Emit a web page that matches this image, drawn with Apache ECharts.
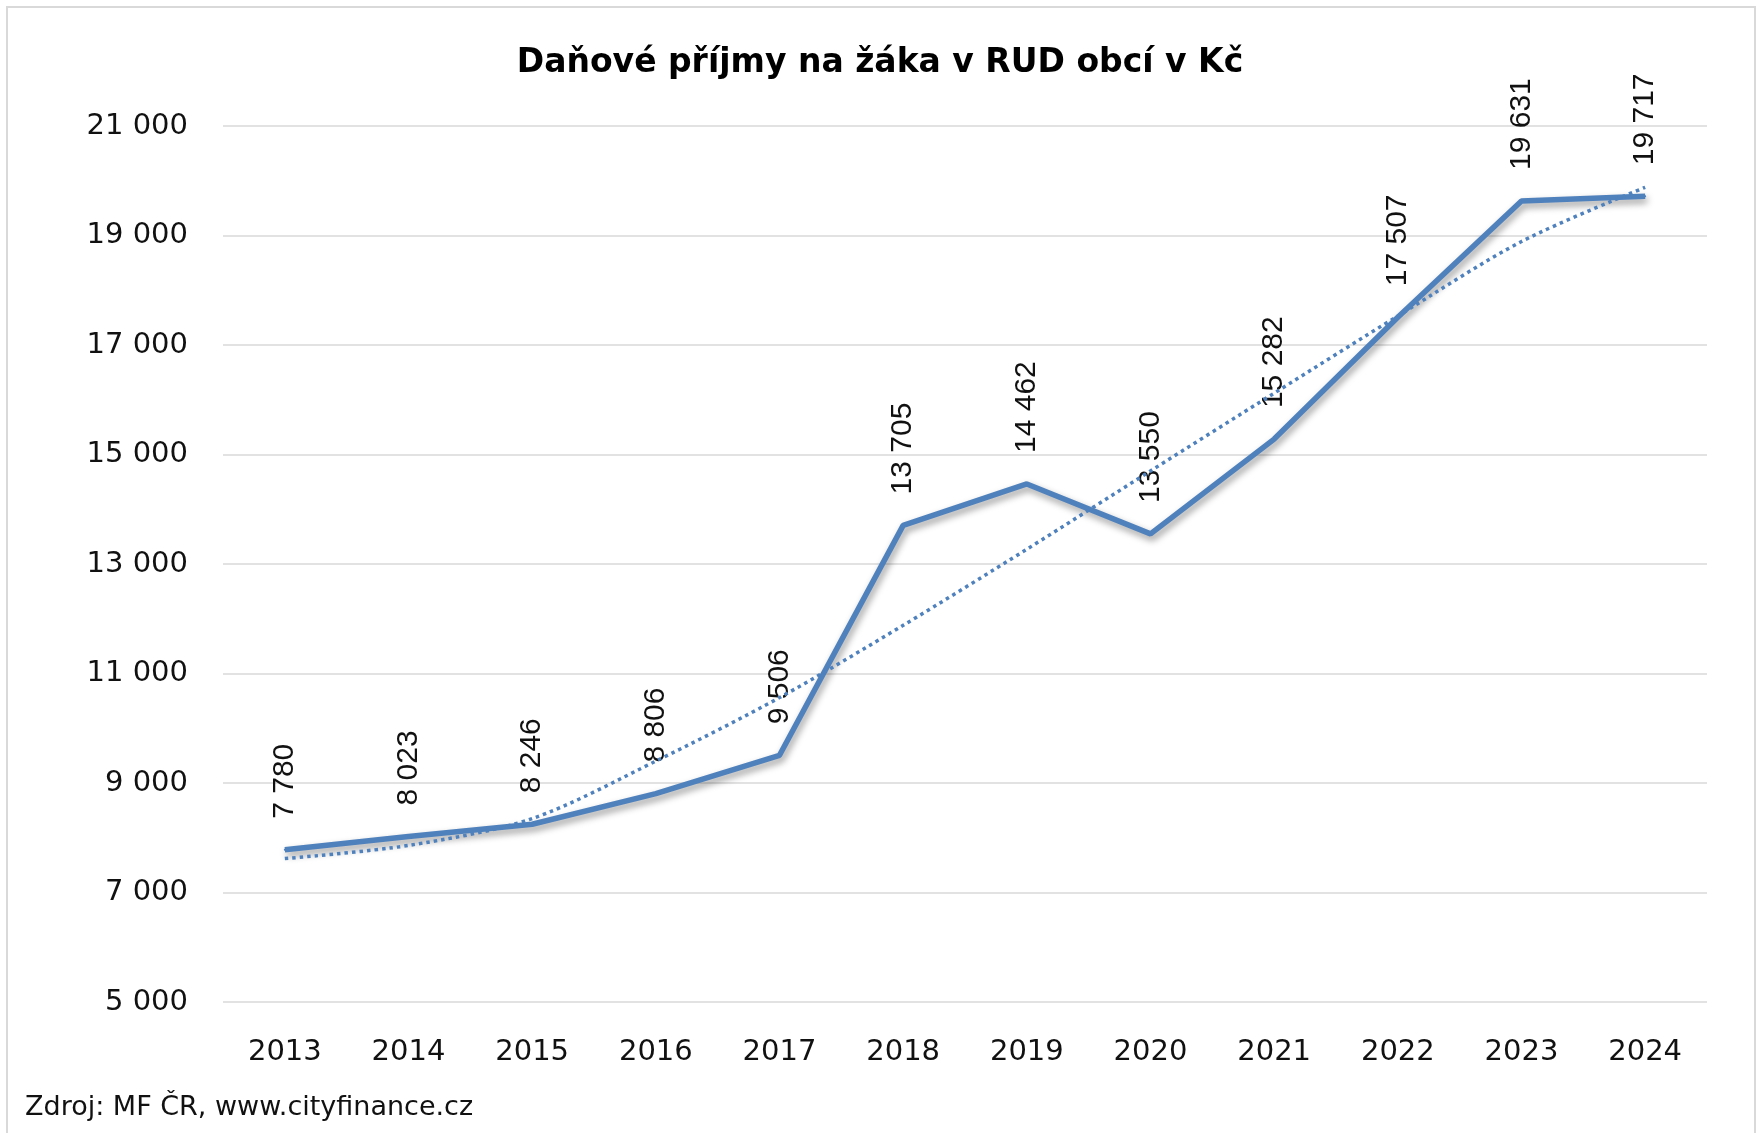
<!DOCTYPE html>
<html>
<head>
<meta charset="utf-8">
<title>Daňové příjmy na žáka v RUD obcí v Kč</title>
<script src="https://cdn.jsdelivr.net/npm/echarts@6/dist/echarts.min.js"></script>
<style>
  html, body { margin: 0; padding: 0; background: #fff; }
  #chart { width: 1760px; height: 1133px; }
</style>
</head>
<body>
<div id="chart"></div>
<script>
// data
const years = ['2013', '2014', '2015', '2016', '2017', '2018', '2019', '2020', '2021', '2022', '2023', '2024']
const taxPerPupil = [7780, 8023, 8246, 8806, 9506, 13705, 14462, 13550, 15282, 17507, 19631, 19717]
// dotted trend line
const trendValues = [7620, 7860, 8350, 9400, 10560, 11880, 13270, 14700, 16120, 17530, 18890, 19880]
const yMin = 5000
const yMax = 21000
const yStep = 2000

const lineBlue = '#4f81bd'
const textDark = '#111'

const fmt = (v) => String(v).replace(/\B(?=(\d{3})+(?!\d))/g, ' ')

const chart = echarts.init(document.getElementById('chart'))

const option = {
  backgroundColor: '#fff',
  animation: false,
  title: {
    text: 'Daňové příjmy na žáka v RUD obcí v Kč',
    left: 'center',
    top: 42,
    textStyle: {
      fontFamily: 'DejaVu Sans',
      fontWeight: 'bold',
      fontSize: 33,
      color: '#000'
    }
  },
  grid: {
    left: 223,
    right: 53,
    top: 126,
    bottom: 131
  },
  xAxis: {
    type: 'category',
    data: years,
    boundaryGap: true,
    axisLine: { show: false },
    axisTick: { show: false },
    axisLabel: {
      margin: 36,
      fontFamily: 'DejaVu Sans',
      fontSize: 29,
      color: textDark
    }
  },
  yAxis: {
    type: 'value',
    min: yMin,
    max: yMax,
    interval: yStep,
    axisLine: { show: false },
    axisTick: { show: false },
    splitLine: { lineStyle: { color: '#d9d9d9', width: 1.5 } },
    axisLabel: {
      margin: 35,
      fontFamily: 'DejaVu Sans',
      fontSize: 29,
      color: textDark,
      formatter: fmt
    }
  },
  series: [
    {
      name: 'Daňové příjmy na žáka',
      type: 'line',
      data: taxPerPupil,
      symbol: 'circle',
      symbolSize: 2,
      itemStyle: { color: lineBlue },
      lineStyle: {
        color: lineBlue,
        width: 5.5,
        shadowColor: 'rgba(0, 0, 0, 0.4)',
        shadowBlur: 7,
        shadowOffsetX: 2,
        shadowOffsetY: 4
      },
      label: {
        show: true,
        position: 'top',
        distance: 30,
        rotate: 90,
        align: 'left',
        verticalAlign: 'middle',
        fontFamily: 'Liberation Sans',
        fontSize: 30,
        color: textDark,
        formatter: (p) => fmt(p.value)
      },
      z: 2
    },
    {
      name: 'Trend',
      type: 'line',
      data: trendValues,
      smooth: 0.3,
      symbol: 'none',
      lineStyle: {
        color: lineBlue,
        width: 3.5,
        type: [3.5, 4]
      },
      z: 3
    }
  ],
  graphic: [
    {
      type: 'rect',
      shape: { x: 7, y: 7, width: 1748, height: 1150 },
      style: {
        fill: 'none',
        stroke: '#d9d9d9',
        lineWidth: 2
      },
      z: -1
    },
    {
      type: 'text',
      left: 25,
      top: 1094,
      style: {
        text: 'Zdroj: MF ČR, www.cityfinance.cz',
        fontFamily: 'DejaVu Sans',
        fontSize: 27,
        fill: textDark
      }
    }
  ]
}

chart.setOption(option)
window.addEventListener('resize', () => chart.resize())
</script>
</body>
</html>
